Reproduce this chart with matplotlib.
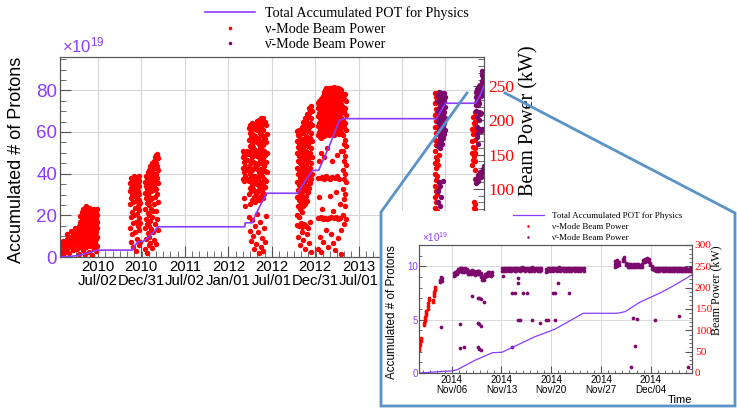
import matplotlib.pyplot as plt
import matplotlib.dates as mdates
from matplotlib.lines import Line2D
from matplotlib.patches import Rectangle
from matplotlib.ticker import MultipleLocator
import pandas as pd

sans = ['Liberation Sans', 'DejaVu Sans']
serif = ['Liberation Serif', 'DejaVu Serif']
plt.rcParams['font.family'] = sans
plt.rcParams['mathtext.fontset'] = 'custom'
plt.rcParams['mathtext.rm'] = 'Liberation Sans'

violet = '#8a3cff'
red = '#ff0000'
purple = '#7b0a6c'
grid_c = '#d6d6d6'
frame_c = '#555555'

# ---- main plot: beam power (kW), keyed by days since 2010-01-01 ----
run1 = {
    24: [4, 9, 15, 21], 30: [6, 12, 18], 36: [3, 10, 16, 24], 44: [8, 14, 20],
    52: [12, 19, 27, 33], 60: [6, 16, 24], 68: [15, 22, 30, 38], 76: [10, 20, 28, 35],
    84: [18, 26, 34, 42], 92: [12, 24, 31, 40], 100: [5, 20, 30, 38, 46],
    108: [15, 28, 36, 44, 52, 60], 113: [22, 33, 41, 49, 57, 66],
    118: [10, 26, 38, 46, 54, 62, 70], 123: [18, 30, 40, 48, 58, 68],
    128: [4, 24, 35, 44, 52, 61, 72], 133: [14, 28, 39, 47, 56, 65, 74],
    138: [20, 32, 42, 50, 60, 70], 143: [8, 26, 36, 45, 54, 63, 72],
    148: [16, 30, 40, 49, 58, 68], 153: [22, 34, 43, 52, 61, 70],
    158: [3, 18, 29, 38, 47, 56, 66], 163: [12, 25, 35, 44, 53, 62, 71],
    168: [20, 31, 41, 50, 59, 68], 173: [9, 27, 37, 46, 55, 64], 178: [16, 30, 42, 52, 62, 70],
}
run2 = {
    316: [42, 78, 96, 108], 320: [58, 86, 101, 116, 22], 324: [33, 66, 91, 110],
    328: [50, 80, 99, 114, 14], 332: [62, 89, 104, 119], 336: [37, 72, 94, 112],
    340: [52, 82, 100, 117, 9], 344: [27, 63, 87, 107], 348: [46, 75, 97, 115],
    352: [17, 57, 84, 104, 118], 356: [40, 69, 92, 111], 360: [22, 50, 79],
    378: [12, 42, 71, 94, 110], 382: [26, 56, 86, 104, 118], 386: [6, 48, 79, 99, 116],
    390: [35, 65, 92, 109, 124], 394: [18, 45, 76, 97, 114, 128], 398: [30, 61, 88, 107, 121],
    402: [21, 53, 83, 104, 119, 133], 406: [41, 70, 96, 113, 128],
    410: [13, 58, 87, 108, 124, 138], 414: [36, 67, 98, 117, 134], 418: [25, 77, 104, 122, 141],
    422: [48, 88, 112, 131, 146], 426: [19, 68, 100, 121, 138, 149],
    430: [55, 93, 116, 133, 151], 434: [40, 81, 109, 128, 145],
}
run3 = {
    790: [114, 131, 146, 156], 795: [112, 124, 139, 152, 86], 800: [119, 134, 149, 74],
    806: [115, 127, 142, 155], 818: [92, 112, 133, 151, 172, 189, 58],
    822: [78, 101, 122, 141, 162, 181, 194, 38], 826: [96, 117, 137, 156, 176, 191, 24],
    830: [84, 106, 127, 146, 166, 186, 197, 54], 834: [99, 119, 139, 161, 179, 195, 31],
    838: [88, 111, 131, 150, 171, 190, 11], 842: [81, 97, 118, 137, 157, 177, 193, 46],
    846: [93, 113, 134, 153, 173, 189, 19], 850: [87, 107, 129, 148, 169, 186, 199, 63],
    854: [96, 116, 136, 156, 174, 194, 36], 858: [84, 104, 124, 146, 166, 184, 201, 6],
    862: [101, 121, 141, 159, 181, 197, 51], 866: [89, 110, 129, 151, 170, 191, 203, 14],
    870: [97, 118, 138, 157, 178, 196, 28], 874: [86, 106, 126, 144, 164, 186, 204, 9],
    878: [93, 114, 134, 155, 176, 195, 42], 882: [102, 126, 149, 173, 198, 22],
    886: [111, 139, 168, 193, 60], 890: [124, 152, 180],
}
run4a = {
    1017: [62, 88, 110, 131, 152, 170, 184, 47], 1021: [75, 98, 121, 141, 161, 178, 30],
    1025: [58, 84, 106, 127, 148, 167, 186, 45], 1029: [70, 94, 116, 137, 157, 175, 18],
    1033: [79, 102, 124, 145, 164, 182, 50], 1037: [66, 90, 112, 134, 154, 173, 190, 36],
    1041: [82, 105, 127, 148, 168, 188, 44], 1045: [74, 96, 119, 140, 161, 181, 198, 25],
    1049: [86, 109, 131, 152, 172, 193, 48], 1053: [78, 100, 123, 144, 165, 186, 204, 12],
    1057: [90, 113, 135, 156, 177, 199, 46], 1061: [82, 104, 127, 149, 170, 192, 209, 33],
    1065: [95, 118, 140, 162, 184, 205, 43], 1069: [101, 124, 146, 168, 190, 211, 219, 20],
    1073: [108, 130, 152, 174, 196, 215, 51], 1077: [115, 137, 159, 181, 203, 221, 8],
    1081: [122, 146, 170, 194, 214],
}
run4b = {
    1105: [178, 192, 206, 218, 226, 116, 57, 12], 1109: [183, 197, 211, 222, 229, 140, 88],
    1113: [176, 189, 203, 216, 227, 57, 30], 1117: [181, 195, 209, 221, 231, 116, 152],
    1121: [174, 187, 200, 214, 225, 58, 8], 1125: [179, 193, 207, 219, 233, 117, 70],
    1129: [185, 199, 212, 224, 236, 56, 22], 1133: [177, 191, 205, 218, 230, 241, 146, 115],
    1137: [182, 196, 210, 223, 235, 245, 57], 1141: [187, 201, 214, 227, 239, 247, 118, 40],
    1145: [180, 194, 208, 221, 233, 244, 56, 160], 1149: [185, 199, 212, 225, 237, 246, 116, 15],
    1153: [178, 192, 206, 219, 231, 242, 248, 57], 1157: [183, 197, 211, 223, 235, 245, 115, 90],
    1161: [188, 202, 215, 228, 240, 248, 58, 33], 1165: [181, 195, 209, 222, 234, 244, 117, 140],
    1169: [186, 200, 213, 226, 238, 247, 20, 68], 1173: [179, 193, 207, 220, 232, 243, 249, 57],
    1177: [184, 198, 212, 224, 236, 246, 116, 10], 1181: [189, 203, 216, 229, 241, 248, 58, 95],
    1185: [182, 196, 210, 223, 235, 245, 118, 150], 1189: [187, 201, 214, 227, 239, 247, 56, 28],
    1193: [180, 194, 208, 221, 233, 243, 115], 1197: [185, 199, 213, 226, 238, 246, 57, 78],
    1201: [190, 204, 217, 230, 242, 155, 40], 1205: [183, 197, 211, 224, 236, 244, 5],
    1211: [100, 128, 155, 178, 200, 220, 236, 62], 1215: [85, 114, 141, 166, 190, 212, 231, 48],
    1219: [92, 121, 148, 172, 196, 218, 239, 75], 1223: [110, 135, 162, 186, 208, 228, 55],
}
run5_nu = {
    1598: [72, 88, 104, 121, 138, 156, 172, 190, 208, 226, 240],
    1602: [80, 96, 113, 130, 147, 164, 181, 199, 217, 234],
    1606: [68, 92, 118, 142, 166, 190, 212, 230], 1610: [100, 135, 170, 205, 232],
    1614: [150, 185, 215],
}
run5_anu = {
    1610: [162, 180, 198, 214, 228, 238, 96, 80], 1614: [168, 186, 202, 219, 232, 241, 110],
    1618: [160, 176, 193, 209, 224, 236, 75, 104], 1622: [171, 188, 205, 221, 234, 240, 88],
    1626: [165, 182, 199, 216, 230, 239], 1630: [174, 192, 208, 225, 237, 112],
    1634: [180, 197, 213, 229, 240], 1638: [186, 203, 220, 234],
}
run6_nu = {
    1752: [135, 152, 170, 188], 1756: [142, 161, 180, 205], 1760: [72, 80, 148, 196],
    1765: [56, 62, 70, 78], 1766: [115, 128, 140, 152], 1767: [160, 172, 184, 194],
    1768: [198, 206, 212],
}
run6_anu = {
    1769: [214, 222, 108], 1771: [226, 234, 242, 115, 58], 1773: [230, 238, 246, 205, 180],
    1775: [228, 236, 244, 190, 176], 1777: [226, 233, 240, 166, 112], 1779: [222, 230, 238, 120, 56],
    1782: [236, 243, 249, 200, 187], 1784: [238, 245, 251, 225, 213], 1786: [237, 244, 250, 187, 124],
    1788: [239, 246, 252, 210, 122], 1790: [236, 243, 250, 185, 117], 1792: [238, 245, 251, 211, 124],
    1794: [240, 247, 253, 187], 1797: [250, 258, 266, 272], 1799: [252, 260, 268, 129, 63],
    1801: [246, 256, 264, 270, 124], 1803: [240, 246, 253, 134],
}

# accumulated POT (x10^19)
pot_day = [22, 70, 110, 150, 178, 326, 336, 350, 371, 395, 415, 434, 799, 800, 828, 860,
           891, 1021, 1050, 1084, 1109, 1130, 1160, 1180, 1197, 1218, 1604, 1625, 1642,
           1768, 1790, 1803]
pot_val = [0, 0.3, 1.0, 2.3, 3.3, 3.3, 5.5, 7.3, 7.5, 9.5, 12.0, 14.5, 14.5, 16.4, 16.4, 24,
           30.6, 30.6, 36, 41.6, 41.6, 47, 55, 61, 65.6, 66.4, 66.4, 70.5, 73.8,
           73.8, 78, 82]

# the last two tick labels sit under the inset
main_ticks = ['2010-07-02', '2010-12-31', '2011-07-02', '2012-01-01', '2012-07-01',
              '2012-12-31', '2013-07-01', '2013-12-31', '2014-07-01']
main_tick_shown = [True, True, True, True, True, True, True, False, False]

# ---- inset: days since 2014-11-01 ----
ins_nu = {
    0.35: [54, 58, 63], 0.5: [66, 71], 0.65: [74, 79, 82], 1.15: [112, 117],
    1.3: [121, 126, 131], 1.45: [135, 140, 145], 1.6: [150, 158, 164], 1.75: [170, 176],
    2.4: [166, 172], 2.55: [180, 185, 190], 2.7: [194, 198, 202],
}
ins_anu = {
    3.35: [213, 217], 3.5: [219, 224, 108], 3.65: [215, 222],
    5.3: [228, 235], 5.5: [230, 237], 5.7: [233, 240], 5.9: [236, 243], 6.1: [238, 245, 115, 58],
    6.3: [239, 246], 6.5: [237, 245], 6.7: [236, 244, 61], 6.9: [238, 246], 7.1: [236, 243],
    7.3: [233, 240], 7.5: [231, 238], 7.7: [233, 240], 7.9: [234, 241, 180], 8.1: [232, 239],
    8.3: [230, 237], 8.5: [232, 238], 8.7: [233, 240, 176, 117, 60], 8.9: [231, 238, 175, 114, 56],
    9.1: [226, 234, 174, 111, 54], 9.3: [219, 227], 9.5: [218, 225, 166], 9.7: [224, 231],
    9.9: [227, 234], 10.1: [229, 236], 10.3: [230, 237], 10.5: [228, 235], 10.7: [229, 236],
    12.1: [238, 245], 12.2: [227], 12.35: [240, 247], 12.6: [239, 246], 12.85: [241, 247],
    13.1: [240, 246], 13.35: [239, 245], 13.5: [187, 61], 13.6: [241, 247], 13.85: [240, 246, 187],
    14.1: [239, 246], 14.3: [222, 211, 124], 14.35: [241, 247], 14.6: [240, 246, 124],
    14.85: [242, 248], 15.0: [187], 15.1: [241, 247], 15.35: [240, 246], 15.6: [241, 247, 187],
    15.85: [239, 245], 16.1: [240, 246], 16.35: [241, 248, 124], 16.6: [240, 246],
    16.85: [241, 247], 17.1: [239, 246], 17.35: [240, 247, 117], 17.6: [241, 247],
    18.3: [236, 243, 124], 18.55: [238, 245, 124], 18.8: [240, 247], 19.05: [241, 247],
    19.2: [187], 19.3: [240, 246], 19.5: [187, 124], 19.55: [241, 247], 19.8: [240, 246],
    19.9: [211], 20.05: [241, 248], 20.3: [240, 246], 20.55: [241, 247], 20.8: [239, 246],
    21.05: [240, 247], 21.3: [241, 247], 21.5: [187], 21.55: [240, 246], 21.8: [239, 246],
    22.05: [241, 247], 22.3: [240, 246], 22.55: [241, 247], 22.8: [240, 246], 23.05: [239, 246],
    23.3: [241, 247], 23.55: [240, 246],
    28.0: [249, 256, 263], 28.2: [250, 258, 265], 28.5: [253, 259], 29.1: [262, 268],
    29.3: [264, 271], 29.5: [252, 258], 29.75: [249, 256], 30.0: [248, 255], 30.2: [249, 256, 14],
    30.45: [248, 254], 30.5: [129], 30.7: [249, 255], 30.8: [63], 30.95: [248, 255], 31.1: [127],
    31.2: [249, 256], 31.45: [248, 254], 31.7: [249, 255], 31.95: [259, 266], 32.2: [261, 268],
    32.45: [262, 269], 32.7: [260, 267], 32.95: [252, 258], 33.2: [244, 250], 33.45: [241, 247],
    33.6: [124], 33.7: [240, 246], 33.95: [239, 245], 34.2: [240, 246], 34.45: [241, 247],
    34.7: [239, 245], 34.95: [240, 246], 35.2: [241, 247], 35.45: [239, 245], 35.7: [240, 246],
    35.95: [240, 247], 36.2: [239, 245], 36.45: [241, 246], 36.7: [240, 246],
    36.95: [239, 245, 134], 37.2: [240, 246], 37.45: [238, 244], 37.7: [239, 245],
    37.95: [240, 246], 38.2: [238, 244], 38.3: [14], 38.45: [239, 245], 38.7: [240, 246],
}
ins_pot_day = [0.4, 5.0, 5.75, 8.3, 10.7, 12.1, 16.7, 19.5, 23.5, 28.3, 29.4, 31.5, 34.3, 36.0, 38.8]
ins_pot_val = [0.0, 0.2, 0.3, 1.2, 1.9, 1.95, 3.4, 4.1, 5.6, 5.6, 5.75, 6.65, 7.5, 8.1, 9.2]
ins_ticks = ['2014-11-06', '2014-11-13', '2014-11-20', '2014-11-27', '2014-12-04']


def to_points(base, runs):
    days = [d for r in runs for d, kws in r.items() for _ in kws]
    kws = [k for r in runs for vals in r.values() for k in vals]
    return pd.Timestamp(base) + pd.to_timedelta(days, unit='D'), kws


def to_line(base, days):
    return pd.Timestamp(base) + pd.to_timedelta(days, unit='D')


W, H = 737, 408
fig = plt.figure(figsize=(W / 100, H / 100), dpi=100)


def build(rect, z):
    a = fig.add_axes(rect)
    a.set_zorder(z)
    b = a.twinx()
    b.set_zorder(z + 0.1)
    c = fig.add_axes(rect, sharex=a, sharey=a)
    c.set_zorder(z + 0.2)
    c.axis('off')
    for s in a.spines.values():
        s.set_color(frame_c)
    for s in b.spines.values():
        s.set_color(frame_c)
    return a, b, c


# ---------------- main ----------------
ax, ax2, ax3 = build([60 / W, 1 - 257 / H, 424 / W, 200 / H], 0)

x, y = to_points('2010-01-01', [run1, run2, run3, run4a, run4b, run5_nu, run6_nu])
ax2.plot(x, y, ls='none', marker='o', ms=3.9, color=red, mec='none')
x, y = to_points('2010-01-01', [run5_anu, run6_anu])
ax2.plot(x, y, ls='none', marker='o', ms=3.9, color=purple, mec='none')
ax3.plot(to_line('2010-01-01', pot_day), pot_val, color=violet, lw=1.2)

ax.set_xlim(pd.Timestamp('2010-01-23'), pd.Timestamp('2014-12-10'))
ax.set_ylim(0, 96)
ax2.set_ylim(0, 293)

tk = pd.to_datetime(main_ticks)
ax.set_xticks(tk, [t.strftime('%Y\n%b/%d') if s else '' for t, s in zip(tk, main_tick_shown)],
              linespacing=1.05)
ax.xaxis.set_minor_locator(mdates.MonthLocator())
ax.yaxis.set_major_locator(MultipleLocator(20))
ax.yaxis.set_minor_locator(MultipleLocator(5))
ax.tick_params(axis='x', which='both', direction='in', labelsize=10.7, pad=2, color=frame_c)
ax.tick_params(axis='x', which='major', length=8)
ax.tick_params(axis='x', which='minor', length=4)
ax.tick_params(axis='y', which='both', direction='in', labelsize=13.5, labelcolor=violet,
               pad=2, color=frame_c)
ax.tick_params(axis='y', which='major', length=8)
ax.tick_params(axis='y', which='minor', length=4)
ax.grid(True, which='major', color=grid_c, lw=0.8)

kw_ticks = [0, 50, 100, 150, 200, 250]
ax2.set_yticks(kw_ticks, [str(v) for v in kw_ticks], fontfamily=serif)
ax2.yaxis.set_minor_locator(MultipleLocator(10))
ax2.tick_params(axis='y', which='both', direction='in', labelsize=12.5, labelcolor=red,
                pad=3, color=frame_c)
ax2.tick_params(axis='y', which='major', length=8)
ax2.tick_params(axis='y', which='minor', length=4)

ax.set_ylabel('Accumulated # of Protons', fontsize=13)
ax.yaxis.label.set_ha('right')
ax.yaxis.set_label_coords(-0.082, 1.0)
ax2.set_ylabel('Beam Power (kW)', fontsize=14.5, fontfamily=serif)
ax2.yaxis.label.set_ha('right')
ax2.yaxis.set_label_coords(1.083, 1.06)

fig.text(62 / W, 1 - 52 / H, r'$\mathregular{\times10^{19}}$', color=violet, fontsize=12)

# ---------------- inset ----------------
fig.add_artist(Rectangle((381 / W, 0), 356 / W, 1 - 211 / H, transform=fig.transFigure,
                         facecolor='white', edgecolor='none', zorder=1))

ins, ins2, ins3 = build([419 / W, 1 - 373 / H, 273 / W, 128 / H], 2)
x, y = to_points('2014-11-01', [ins_nu])
ins2.plot(x, y, ls='none', marker='o', ms=2.7, color=red, mec='none')
x, y = to_points('2014-11-01', [ins_anu])
ins2.plot(x, y, ls='none', marker='o', ms=2.7, color=purple, mec='none')
ins3.plot(to_line('2014-11-01', ins_pot_day), ins_pot_val, color=violet, lw=0.9)

ins.set_xlim(pd.Timestamp('2014-11-01 09:36'), pd.Timestamp('2014-12-09 19:12'))
ins.set_ylim(0, 12)
ins2.set_ylim(0, 300)

tk = pd.to_datetime(ins_ticks)
ins.set_xticks(tk, [t.strftime('%Y\n%b/%d') for t in tk], linespacing=1.05)
ins.xaxis.set_minor_locator(mdates.DayLocator())
ins.yaxis.set_major_locator(MultipleLocator(5))
ins.yaxis.set_minor_locator(MultipleLocator(1))
ins.tick_params(axis='x', which='both', direction='in', labelsize=7.1, pad=1.5, color=frame_c)
ins.tick_params(axis='x', which='major', length=5)
ins.tick_params(axis='x', which='minor', length=2.5)
ins.tick_params(axis='y', which='both', direction='in', labelsize=7, labelcolor=violet,
                pad=1, color=frame_c)
ins.tick_params(axis='y', which='major', length=5)
ins.tick_params(axis='y', which='minor', length=2.5)
ins.grid(True, which='major', color=grid_c, lw=0.6)

ins_kw_ticks = [0, 50, 100, 150, 200, 250, 300]
ins2.set_yticks(ins_kw_ticks, [str(v) for v in ins_kw_ticks], fontfamily=serif)
ins2.yaxis.set_minor_locator(MultipleLocator(10))
ins2.tick_params(axis='y', which='both', direction='in', labelsize=8.2, labelcolor=red,
                 pad=2, color=frame_c)
ins2.tick_params(axis='y', which='major', length=5)
ins2.tick_params(axis='y', which='minor', length=2.5)

ins.set_ylabel('Accumulated # of Protons', fontsize=8.4)
ins.yaxis.label.set_ha('right')
ins.yaxis.set_label_coords(-0.078, 1.0)
ins2.set_ylabel('Beam Power (kW)', fontsize=8.6, fontfamily=serif)
ins2.yaxis.label.set_ha('right')
ins2.yaxis.set_label_coords(1.068, 1.0)
ins.set_xlabel('Time', fontsize=8.1, loc='right', labelpad=0)

fig.text(422 / W, 1 - 242 / H, r'$\mathregular{\times10^{19}}$', color=violet, fontsize=7)

# callout outline
cx = [467, 381, 381, 735, 735, 505]
cy = [93, 212, 406, 406, 213, 93]
fig.add_artist(Line2D([v / W for v in cx], [1 - v / H for v in cy], transform=fig.transFigure,
                      color='#5a93c8', lw=2, zorder=3, solid_joinstyle='miter'))

# legends
labels = ['Total Accumulated POT for Physics', '\u03bd-Mode Beam Power', '\u03bd\u0304-Mode Beam Power']


def handles(ms, lw):
    return [Line2D([], [], color=violet, lw=lw),
            Line2D([], [], ls='none', marker='o', ms=ms, color=red, mec='none'),
            Line2D([], [], ls='none', marker='o', ms=ms, color=purple, mec='none')]


fig.legend(handles(2.6, 1.2), labels, loc='upper left', bbox_to_anchor=(205 / W, 1 - 6 / H),
           frameon=False, prop={'family': serif, 'size': 10.2}, handlelength=3.5,
           handletextpad=0.75, labelspacing=0.2, borderpad=0, borderaxespad=0)
fig.legend(handles(1.8, 0.9), labels, loc='upper left', bbox_to_anchor=(513 / W, 1 - 212 / H),
           frameon=False, prop={'family': serif, 'size': 6.5}, handlelength=3.4,
           handletextpad=0.9, labelspacing=0.3, borderpad=0, borderaxespad=0)

fig.savefig('out.png', dpi=100)
